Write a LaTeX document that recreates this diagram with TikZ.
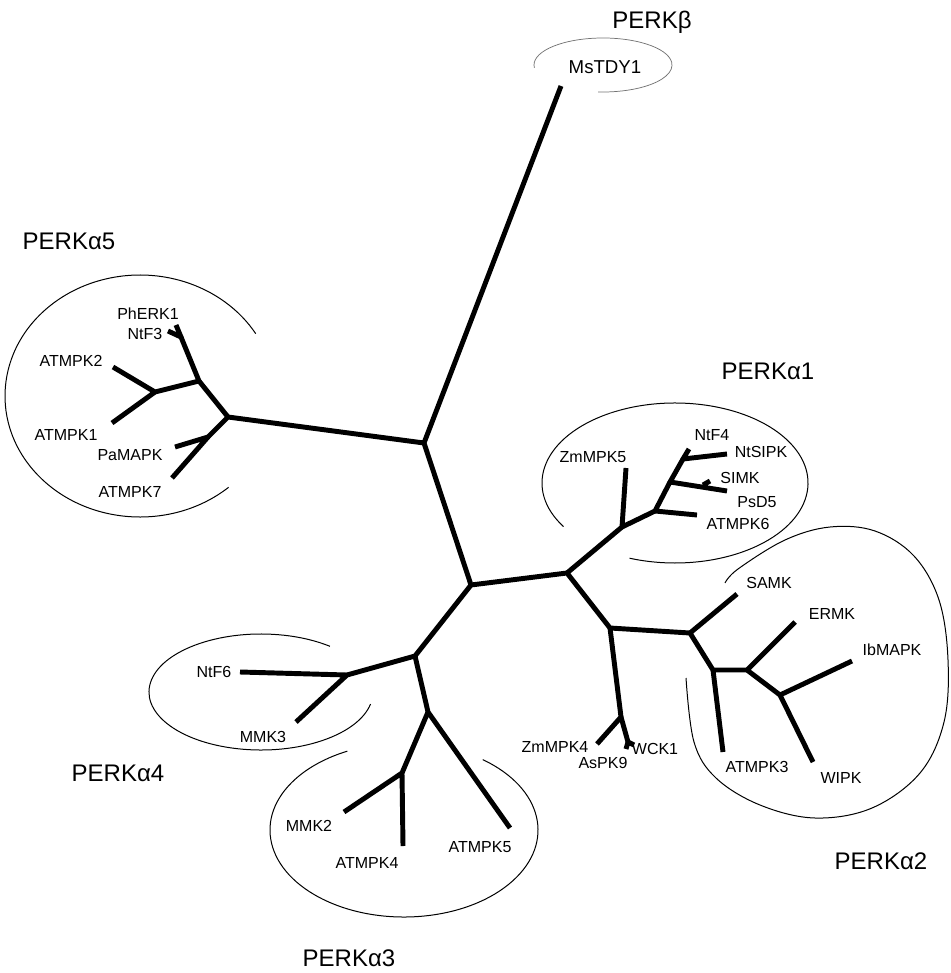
\documentclass[tikz,border=0pt]{standalone}
\usepackage{fontspec}
\setmainfont{Liberation Sans}
\begin{document}
\begin{tikzpicture}[x=0.75pt,y=-0.75pt,
  branch/.style={line width=3.7pt, line cap=butt},
  hull/.style={line width=0.75pt},
  faint/.style={line width=0.55pt, draw=black!55},
  leaf/.style={font=\fontsize{12}{14}\selectfont, inner sep=0pt, anchor=base},
  clade/.style={font=\fontsize{18}{21}\selectfont, inner sep=0pt, anchor=base}
]
\useasboundingbox (0,0) rectangle (950,973);

% ---------- internal vertices of the tree ----------
\coordinate (A) at (424,443);
\coordinate (B) at (471,585);
\coordinate (C) at (567,573);
\coordinate (D) at (415,656);
\coordinate (E) at (610,628);
% PERKalpha5
\coordinate (P) at (228,417);
\coordinate (Q) at (199,381);
\coordinate (R) at (181,337);
\coordinate (S) at (155,392);
\coordinate (T) at (208,437);
% PERKalpha1
\coordinate (L) at (622,527);
\coordinate (M) at (655,511);
\coordinate (N) at (670,482);
\coordinate (N2) at (703,485);
\coordinate (O) at (683,459);
% PERKalpha2
\coordinate (F) at (690,633);
\coordinate (G) at (713,670);
\coordinate (H) at (747,670);
\coordinate (I) at (780,695);
% ZmMPK4 / AsPK9 / WCK1
\coordinate (J) at (621,717);
\coordinate (K) at (628,742);
% PERKalpha4 / PERKalpha3
\coordinate (U) at (347,675);
\coordinate (V) at (428,712);
\coordinate (W) at (402,773);

% ---------- leaf tips ----------
\coordinate (tMs) at (561,86);
\coordinate (tPh) at (176,325);
\coordinate (tNtF3) at (168,331);
\coordinate (tA2) at (113,367);
\coordinate (tA1) at (112,423);
\coordinate (tPa) at (175,447);
\coordinate (tA7) at (172,478);
\coordinate (tZm5) at (626,468);
\coordinate (tA6) at (697,515);
\coordinate (tPs) at (727,491);
\coordinate (tSI) at (710,481);
\coordinate (tNtS) at (727,454);
\coordinate (tNtF4) at (689,449);
\coordinate (tSA) at (737,594);
\coordinate (tA3) at (723,752);
\coordinate (tER) at (795,622);
\coordinate (tIb) at (852,661);
\coordinate (tWI) at (813,762);
\coordinate (tZm4) at (597,744);
\coordinate (tAs) at (626,749);
\coordinate (tWC) at (634,745);
\coordinate (tNtF6) at (240,672);
\coordinate (tMMK3) at (296,722);
\coordinate (tMMK2) at (344,812);
\coordinate (tA4) at (403,846);
\coordinate (tA5) at (510,828);

% ---------- branches ----------
\draw[branch]
  (A) -- (tMs)  (A) -- (P)  (A) -- (B)
  (B) -- (C)  (B) -- (D)
  (P) -- (Q)  (Q) -- (R)  (R) -- (tPh)  (R) -- (tNtF3)
  (Q) -- (S)  (S) -- (tA2)  (S) -- (tA1)
  (P) -- (T)  (T) -- (tPa)  (T) -- (tA7)
  (C) -- (L)  (L) -- (tZm5)  (L) -- (M)  (M) -- (tA6)
  (M) -- (N)  (N) -- (tPs)  (N2) -- (tSI)
  (N) -- (O)  (O) -- (tNtS)  (O) -- (tNtF4)
  (C) -- (E)  (E) -- (F)  (F) -- (tSA)  (F) -- (G)
  (G) -- (tA3)  (G) -- (H)  (H) -- (tER)  (H) -- (I)
  (I) -- (tIb)  (I) -- (tWI)
  (E) -- (J)  (J) -- (tZm4)  (J) -- (K)  (K) -- (tAs)  (K) -- (tWC)
  (D) -- (U)  (U) -- (tNtF6)  (U) -- (tMMK3)
  (D) -- (V)  (V) -- (W)  (V) -- (tA5)
  (W) -- (tMMK2)  (W) -- (tA4);
% round off the joints
\foreach \k in {A,B,C,D,E,P,Q,R,S,T,L,M,N,O,F,G,H,I,J,K,U,V,W}
  \fill (\k) circle[radius=1.85pt];

% ---------- clade outlines ----------
\coordinate (cMs) at (603,65);
\draw[faint] (cMs) ++(174:69 and 27) arc[start angle=174, end angle=454, x radius=69, y radius=27];
\coordinate (c5) at (140,396);
\draw[hull] (c5) ++(49:135 and 121) arc[start angle=49, end angle=329, x radius=135, y radius=121];
\coordinate (c1) at (675,483);
\draw[hull] (c1) ++(147:133 and 80) arc[start angle=147, end angle=470, x radius=133, y radius=80];
\coordinate (c4) at (261,692);
\draw[hull] (c4) ++(12:112 and 58) arc[start angle=12, end angle=308, x radius=112, y radius=58];
\coordinate (c3) at (404,830);
\draw[hull] (c3) ++(306:134 and 87) arc[start angle=306, end angle=605, x radius=134, y radius=87];
\draw[hull] plot[smooth, tension=0.6] coordinates {
  (725,583) (738,569) (785,540) (830,527) (875,531) (914,556) (939,600)
  (948,660) (944,722) (920,773) (872,808) (815,818) (760,805) (716,778)
  (694,742) (686,678)};

% ---------- leaf labels ----------
\node[leaf, font=\fontsize{14}{16}\selectfont] (lMs) at (605,74) {MsTDY1};
\node[leaf] (lPh) at (148,319) {PhERK1};
\node[leaf] (lNtF3) at (145,339) {NtF3};
\node[leaf] (lA2) at (71,366) {ATMPK2};
\node[leaf] (lA1) at (66,440) {ATMPK1};
\node[leaf] (lPa) at (130,460) {PaMAPK};
\node[leaf] (lA7) at (130,497) {ATMPK7};
\node[leaf] (lZm5) at (593,462) {ZmMPK5};
\node[leaf] (lNtF4) at (712,440) {NtF4};
\node[leaf] (lNtS) at (761,457) {NtSIPK};
\node[leaf] (lSI) at (740,483) {SIMK};
\node[leaf] (lPs) at (757,507) {PsD5};
\node[leaf] (lA6) at (738,529) {ATMPK6};
\node[leaf] (lSA) at (769,588) {SAMK};
\node[leaf] (lER) at (832,619) {ERMK};
\node[leaf] (lIb) at (892,655) {IbMAPK};
\node[leaf] (lA3) at (757,772) {ATMPK3};
\node[leaf] (lWI) at (841,783) {WIPK};
\node[leaf] (lZm4) at (555,752) {ZmMPK4};
\node[leaf] (lAs) at (603,768) {AsPK9};
\node[leaf] (lWC) at (655,754) {WCK1};
\node[leaf] (lNtF6) at (214,677) {NtF6};
\node[leaf] (lMMK3) at (263,742) {MMK3};
\node[leaf] (lMMK2) at (309,831) {MMK2};
\node[leaf] (lA4) at (367,868) {ATMPK4};
\node[leaf] (lA5) at (480,852) {ATMPK5};

% ---------- clade names ----------
\node[clade] (gB) at (652,29) {PERKβ};
\node[clade] (g5) at (69,250) {PERKα5};
\node[clade] (g1) at (768,379) {PERKα1};
\node[clade] (g4) at (118,781) {PERKα4};
\node[clade] (g2) at (881,869) {PERKα2};
\node[clade] (g3) at (349,966) {PERKα3};
\end{tikzpicture}
\end{document}
